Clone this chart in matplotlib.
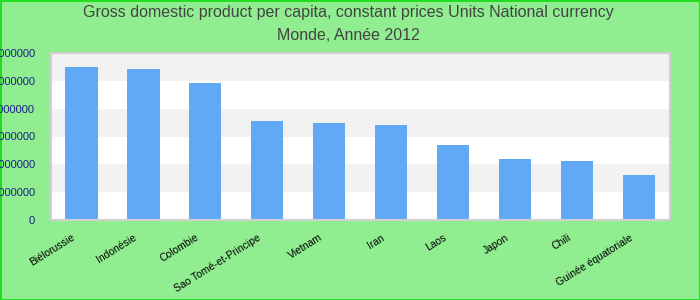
import matplotlib
matplotlib.use("Agg")
import matplotlib.pyplot as plt
import matplotlib.transforms as mtransforms

# values (national currency units)
countries = ["Biélorussie", "Indonésie", "Colombie", "Sao Tomé-et-Principe", "Vietnam",
             "Iran", "Laos", "Japon", "Chili", "Guinée équatoriale"]
gdp = [55.0e6, 54.3e6, 49.2e6, 35.6e6, 34.9e6, 34.1e6, 26.9e6, 21.9e6, 21.2e6, 16.2e6]
yticks = [0, 10000000, 20000000, 30000000, 40000000, 50000000, 60000000]
title_lines = ["Gross domestic product per capita, constant prices Units National currency",
               "Monde, Année 2012"]

plt.rcParams["font.family"] = ["Liberation Sans", "DejaVu Sans"]

fig = plt.figure(figsize=(7, 3), dpi=100)
fig.patch.set_facecolor("#90EE90")
fig.patch.set_edgecolor("#22DD22")
fig.patch.set_linewidth(2)

ax = fig.add_axes([50.5 / 700, 80 / 300, 619.5 / 700, 167 / 300])
ax.set_facecolor("white")

# alternating bands between gridlines, top band grey
for i in range(len(yticks) - 1):
    if (len(yticks) - 2 - i) % 2 == 0:
        ax.axhspan(yticks[i], yticks[i + 1], color="#F2F2F2", zorder=0, lw=0)

x = range(len(countries))
ax.bar(x, gdp, width=0.52, color="#62A9F5", zorder=2)

ax.set_xlim(-0.5, len(countries) - 0.5)
ax.set_ylim(yticks[0], yticks[-1])
ax.set_yticks(yticks)
ax.set_yticklabels([str(v) for v in yticks], color="#1C1C8C", fontsize=8)
ax.set_xticks(list(x))
ax.set_xticklabels(countries, rotation=32, ha="right", va="top",
                   rotation_mode="anchor", fontsize=7.5, color="black")
ax.tick_params(axis="both", length=0)
ax.tick_params(axis="y", pad=11)
ax.tick_params(axis="x", pad=9)
shift = mtransforms.ScaledTranslation(-10 / 100, 0, fig.dpi_scale_trans)
for lbl in ax.get_xticklabels():
    lbl.set_transform(lbl.get_transform() + shift)
for s in ax.spines.values():
    s.set_color("#D0D0D0")
    s.set_linewidth(1.5)

fig.text(0.497, 1 - 12.5 / 300, title_lines[0], ha="center", va="center",
         fontsize=11.5, color="#444444")
fig.text(0.497, 1 - 35.5 / 300, title_lines[1], ha="center", va="center",
         fontsize=11.5, color="#444444")

fig.savefig("out.png", dpi=100, facecolor=fig.get_facecolor(), edgecolor=fig.get_edgecolor())
